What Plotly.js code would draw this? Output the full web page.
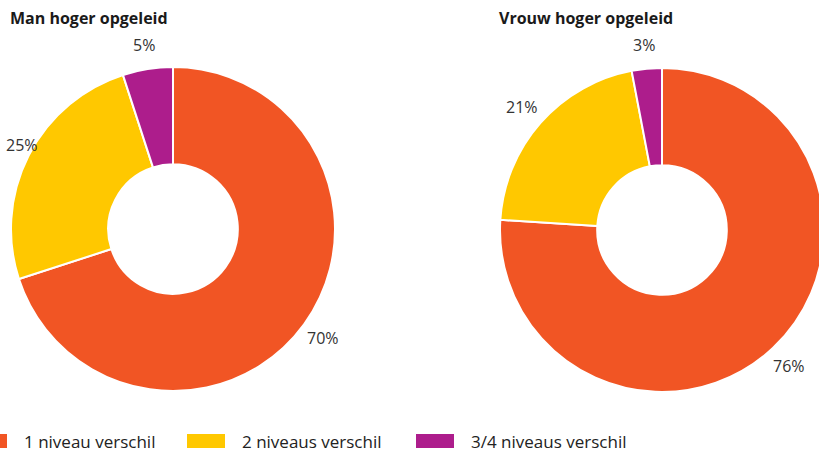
<!DOCTYPE html>
<html>
<head>
<meta charset="utf-8">
<script src="https://cdn.plot.ly/plotly-3.0.1.min.js"></script>
<style>
html,body{margin:0;padding:0;background:#fff;overflow:hidden;}
#wrap{width:819px;height:452px;overflow:hidden;}
#chart{width:840px;height:452px;}
</style>
</head>
<body>
<div id="wrap"><div id="chart"></div></div>
<script>
const categories = ["1 niveau verschil", "2 niveaus verschil", "3/4 niveaus verschil"];
const manValues = [70, 25, 5];
const vrouwValues = [76, 21, 3];
const titles = ["Man hoger opgeleid", "Vrouw hoger opgeleid"];
const colors = ["#f15524", "#ffc800", "#ad1d8c"];

const W = 840, H = 452;
const font = "Open Sans, Noto Sans, sans-serif";
// pie boxes in pixels: [left, right, top, bottom]
const boxes = [[11, 335, 67, 391], [500, 824, 68, 392]];
function dom(b) {
  return {x: [b[0] / W, b[1] / W], y: [1 - b[3] / H, 1 - b[2] / H]};
}
function pie(values, b) {
  return {
    type: "pie",
    labels: categories,
    values: values,
    sort: false,
    direction: "clockwise",
    rotation: 0,
    hole: 0.4,
    domain: dom(b),
    marker: {colors: colors, line: {color: "#ffffff", width: 2}},
    textinfo: "none",
    showlegend: false,
    hoverinfo: "label+value"
  };
}
const series = [manValues, vrouwValues];
const data = series.map((v, i) => pie(v, boxes[i]));

const annotations = [];
titles.forEach((t, i) => {
  annotations.push({text: "<b>" + t + "</b>", x: (boxes[i][0] - 3) / W, y: 1 - 18 / H, xref: "paper", yref: "paper", xanchor: "left", yanchor: "middle", showarrow: false, font: {family: font, size: 16, color: "#1a1a1a"}});
});
// percentage labels, placed outside each slice at its mid angle
series.forEach((vals, i) => {
  const b = boxes[i];
  const cx = (b[0] + b[1]) / 2, cy = (b[2] + b[3]) / 2;
  const R = (b[1] - b[0]) / 2 + 24;
  const total = vals.reduce((a, c) => a + c, 0);
  let cum = 0;
  vals.forEach((v) => {
    const mid = (cum + v / 2) / total * 2 * Math.PI;
    cum += v;
    let px = cx + R * Math.sin(mid);
    const py = cy - R * Math.cos(mid);
    px = Math.max(22, Math.min(W - 40, px));
    annotations.push({text: v + "%", x: px / W, y: 1 - py / H, xref: "paper", yref: "paper", xanchor: "center", yanchor: "middle", showarrow: false, font: {family: font, size: 16, color: "#333333"}});
  });
});
const shapes = [];
const legendX = [-31, 187, 416];
categories.forEach((c, i) => {
  shapes.push({type: "rect", xref: "paper", yref: "paper", x0: legendX[i] / W, x1: (legendX[i] + 38) / W, y0: 1 - 448 / H, y1: 1 - 434 / H, fillcolor: colors[i], line: {width: 0}});
  annotations.push({text: c, x: (legendX[i] + 53) / W, y: 1 - 441 / H, xref: "paper", yref: "paper", xanchor: "left", yanchor: "middle", showarrow: false, font: {family: font, size: 17, color: "#222222"}});
});

const layout = {
  width: W, height: H,
  margin: {l: 0, r: 0, t: 0, b: 0},
  paper_bgcolor: "#ffffff",
  showlegend: false,
  annotations: annotations,
  shapes: shapes
};
Plotly.newPlot("chart", data, layout, {displayModeBar: false, staticPlot: true});
</script>
</body>
</html>
